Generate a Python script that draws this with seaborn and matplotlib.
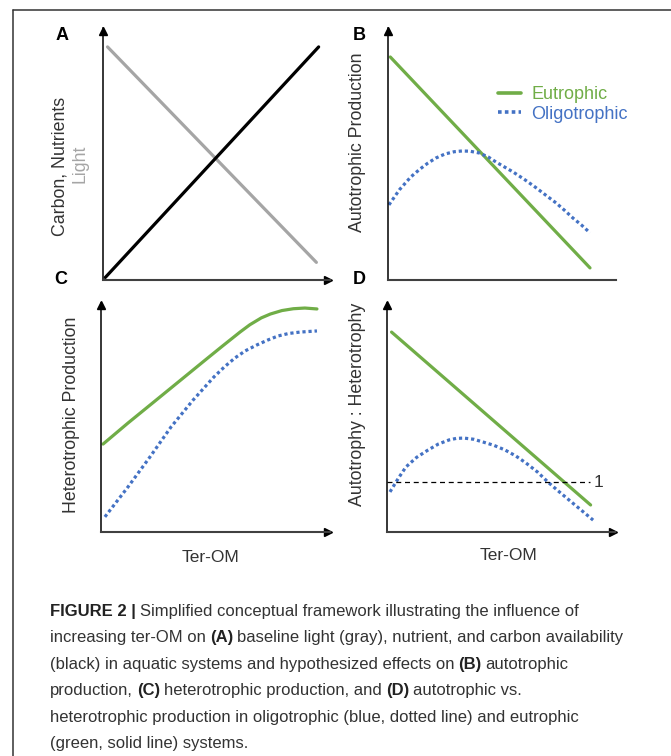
import matplotlib
matplotlib.use("Agg")
import matplotlib.pyplot as plt
from matplotlib.lines import Line2D
from matplotlib import font_manager
import seaborn as sns

# ---- data (axes fractions, 0..1) ----
# A: baseline light and carbon / nutrients vs ter-OM
a_carbon_x = [0.01, 0.95]
a_carbon_y = [0.01, 0.925]
a_light_x = [0.02, 0.94]
a_light_y = [0.925, 0.07]

# B: autotrophic production
b_eu_x = [0.01, 0.886]
b_eu_y = [0.885, 0.048]
b_oli_x = [0.004, 0.05, 0.10, 0.14, 0.175, 0.21, 0.25, 0.29, 0.325, 0.36, 0.40, 0.44,
           0.474, 0.51, 0.548, 0.60, 0.645, 0.69, 0.737, 0.775, 0.811, 0.85, 0.886]
b_oli_y = [0.298, 0.358, 0.409, 0.440, 0.464, 0.484, 0.500, 0.509, 0.512, 0.511, 0.504, 0.488,
           0.468, 0.449, 0.429, 0.398, 0.369, 0.338, 0.306, 0.276, 0.246, 0.217, 0.187]

# C: heterotrophic production
c_eu_x = [0.009, 0.118, 0.231, 0.345, 0.454, 0.528, 0.607, 0.65, 0.70, 0.74, 0.79, 0.84,
          0.89, 0.943]
c_eu_y = [0.384, 0.476, 0.568, 0.661, 0.750, 0.810, 0.873, 0.905, 0.935, 0.952, 0.967, 0.975,
          0.978, 0.974]
c_oli_x = [0.017, 0.118, 0.214, 0.306, 0.402, 0.493, 0.54, 0.585, 0.63, 0.681, 0.73, 0.773,
           0.82, 0.869, 0.943]
c_oli_y = [0.066, 0.197, 0.328, 0.459, 0.576, 0.677, 0.722, 0.760, 0.791, 0.817, 0.839, 0.856,
           0.867, 0.873, 0.878]

# D: autotrophy : heterotrophy
d_eu_x = [0.02, 0.893]
d_eu_y = [0.873, 0.118]
d_oli_x = [0.013, 0.05, 0.083, 0.13, 0.18, 0.225, 0.272, 0.305, 0.338, 0.38, 0.421, 0.47,
           0.518, 0.565, 0.61, 0.66, 0.706, 0.75, 0.798, 0.85, 0.904]
d_oli_y = [0.175, 0.235, 0.284, 0.326, 0.358, 0.384, 0.402, 0.409, 0.410, 0.405, 0.393, 0.378,
           0.358, 0.332, 0.301, 0.262, 0.218, 0.180, 0.140, 0.097, 0.052]
d_ratio_one = 0.218

legend_labels = ["Eutrophic", "Oligotrophic"]

caption_lines = [
    [("FIGURE 2 |", True), ("Simplified conceptual framework illustrating the influence of", False)],
    [("increasing ter-OM on", False), ("(A)", True),
     ("baseline light (gray), nutrient, and carbon availability", False)],
    [("(black) in aquatic systems and hypothesized effects on", False), ("(B)", True),
     ("autotrophic", False)],
    [("production,", False), ("(C)", True), ("heterotrophic production, and", False),
     ("(D)", True), ("autotrophic vs.", False)],
    [("heterotrophic production in oligotrophic (blue, dotted line) and eutrophic", False)],
    [("(green, solid line) systems.", False)],
]

GREEN = "#70AD47"
BLUE = "#4472C4"
GRAY = "#A5A5A5"
TXT = "#333333"
DOTS = (0, (1, 0.9))

W, H = 671, 756
sns.set_theme(style="white")
plt.rcParams["font.family"] = ["Liberation Sans", "DejaVu Sans"]
installed = {f.name for f in font_manager.fontManager.ttflist}
CAP_FONT = ["Liberation Sans Narrow", "Liberation Sans"] if "Liberation Sans Narrow" in installed \
    else ["Liberation Sans", "DejaVu Sans"]
CAP_SIZE = 14 if "Liberation Sans Narrow" in installed else 12

fig = plt.figure(figsize=(W / 100, H / 100), dpi=100)


def px_axes(left, top, right, bottom):
    return fig.add_axes([left / W, 1 - bottom / H, (right - left) / W, (bottom - top) / H])


def ftext(x, y, s, **kw):
    return fig.text(x / W, 1 - y / H, s, **kw)


def style_axes(ax, x_arrow=True):
    ax.set_xlim(0, 1)
    ax.set_ylim(0, 1)
    ax.set_xticks([])
    ax.set_yticks([])
    ax.set_xlabel("")
    ax.set_ylabel("")
    ax.spines["top"].set_visible(False)
    ax.spines["right"].set_visible(False)
    ax.spines["left"].set_color("black")
    ax.spines["left"].set_linewidth(1.1)
    ax.spines["bottom"].set_color("#404040")
    ax.spines["bottom"].set_linewidth(1.5)
    ax.patch.set_alpha(0)
    ax.plot(0, 0.99, "^", color="black", ms=6, transform=ax.transAxes, clip_on=False)
    if x_arrow:
        ax.plot(0.99, 0, ">", color="black", ms=6, transform=ax.transAxes, clip_on=False)


# --- A ---
ax_a = px_axes(103, 28, 330, 280)
sns.lineplot(x=a_light_x, y=a_light_y, color=GRAY, lw=2.3, ax=ax_a)
sns.lineplot(x=a_carbon_x, y=a_carbon_y, color="black", lw=2.3, ax=ax_a)
style_axes(ax_a)

# --- B ---
ax_b = px_axes(388, 28, 616, 280)
sns.lineplot(x=b_eu_x, y=b_eu_y, color=GREEN, lw=2.3, ax=ax_b)
sns.lineplot(x=b_oli_x, y=b_oli_y, color=BLUE, lw=2.3, linestyle=DOTS, ax=ax_b)
style_axes(ax_b, x_arrow=False)
handles = [Line2D([], [], color=GREEN, lw=2.6),
           Line2D([], [], color=BLUE, lw=2.6, linestyle=DOTS)]
ax_b.legend(handles, legend_labels, loc="upper left", frameon=False, fontsize=13,
            bbox_to_anchor=(498 / W, 1 - 86 / H), bbox_transform=fig.transFigure,
            borderpad=0, borderaxespad=0, handlelength=1.25, handletextpad=0.6,
            labelspacing=0.15, labelcolor=[GREEN, BLUE])

# --- C ---
ax_c = px_axes(101, 303, 330, 532)
sns.lineplot(x=c_eu_x, y=c_eu_y, color=GREEN, lw=2.3, ax=ax_c)
sns.lineplot(x=c_oli_x, y=c_oli_y, color=BLUE, lw=2.3, linestyle=DOTS, ax=ax_c)
style_axes(ax_c)

# --- D ---
ax_d = px_axes(387, 303, 615, 532)
sns.lineplot(x=d_eu_x, y=d_eu_y, color=GREEN, lw=2.3, ax=ax_d)
sns.lineplot(x=d_oli_x, y=d_oli_y, color=BLUE, lw=2.3, linestyle=DOTS, ax=ax_d)
ax_d.axhline(d_ratio_one, xmin=0, xmax=0.89, color="black", lw=0.9, ls=(0, (4, 3)))
ax_d.text(0.905, d_ratio_one, "1", ha="left", va="center", fontsize=12.5, color=TXT)
style_axes(ax_d)

# --- panel letters and axis titles ---
for letter, (lx, ly) in zip("ABCD", [(62, 35), (359, 35), (61, 280), (359, 280)]):
    ftext(lx, ly, letter, fontsize=13, fontweight="bold", ha="center", va="center", color="black")

ftext(60, 166, "Carbon, Nutrients", rotation=90, fontsize=12.8, ha="center", va="center", color=TXT)
ftext(80, 164, "Light", rotation=90, fontsize=12.8, ha="center", va="center", color=GRAY)
ftext(357, 142, "Autotrophic Production", rotation=90, fontsize=12.8, ha="center", va="center",
      color=TXT)
ftext(71, 415, "Heterotrophic Production", rotation=90, fontsize=12.8, ha="center", va="center",
      color=TXT)
ftext(357, 404, "Autotrophy : Heterotrophy", rotation=90, fontsize=12.8, ha="center", va="center",
      color=TXT)
ftext(210, 557, "Ter-OM", fontsize=12.5, ha="center", va="center", color=TXT)
ftext(509, 555, "Ter-OM", fontsize=12.5, ha="center", va="center", color=TXT)

# --- frame ---
fig.add_artist(Line2D([13 / W, 13 / W], [0, 1 - 10 / H], color="#333333", lw=1.1,
                      transform=fig.transFigure))
fig.add_artist(Line2D([13 / W, 1], [1 - 10 / H, 1 - 10 / H], color="#333333", lw=1.1,
                      transform=fig.transFigure))

# --- caption ---
bg = fig.add_axes([0, 0, 1, 1])
bg.axis("off")
bg.set_xlim(0, W)
bg.set_ylim(H, 0)
space = 4
for i, line in enumerate(caption_lines):
    y = 610 + i * 26.4 + 9
    prev = None
    for text, bold in line:
        kw = dict(fontsize=CAP_SIZE, family=CAP_FONT, color="#222222" if bold else TXT,
                  fontweight="bold" if bold else "normal", ha="left", va="bottom")
        if prev is None:
            prev = bg.text(50, y, text, **kw)
        else:
            prev = bg.annotate(text, xy=(1, 0), xycoords=prev, xytext=(space, 0),
                               textcoords="offset pixels", **kw)

fig.savefig("out.png", dpi=100)
